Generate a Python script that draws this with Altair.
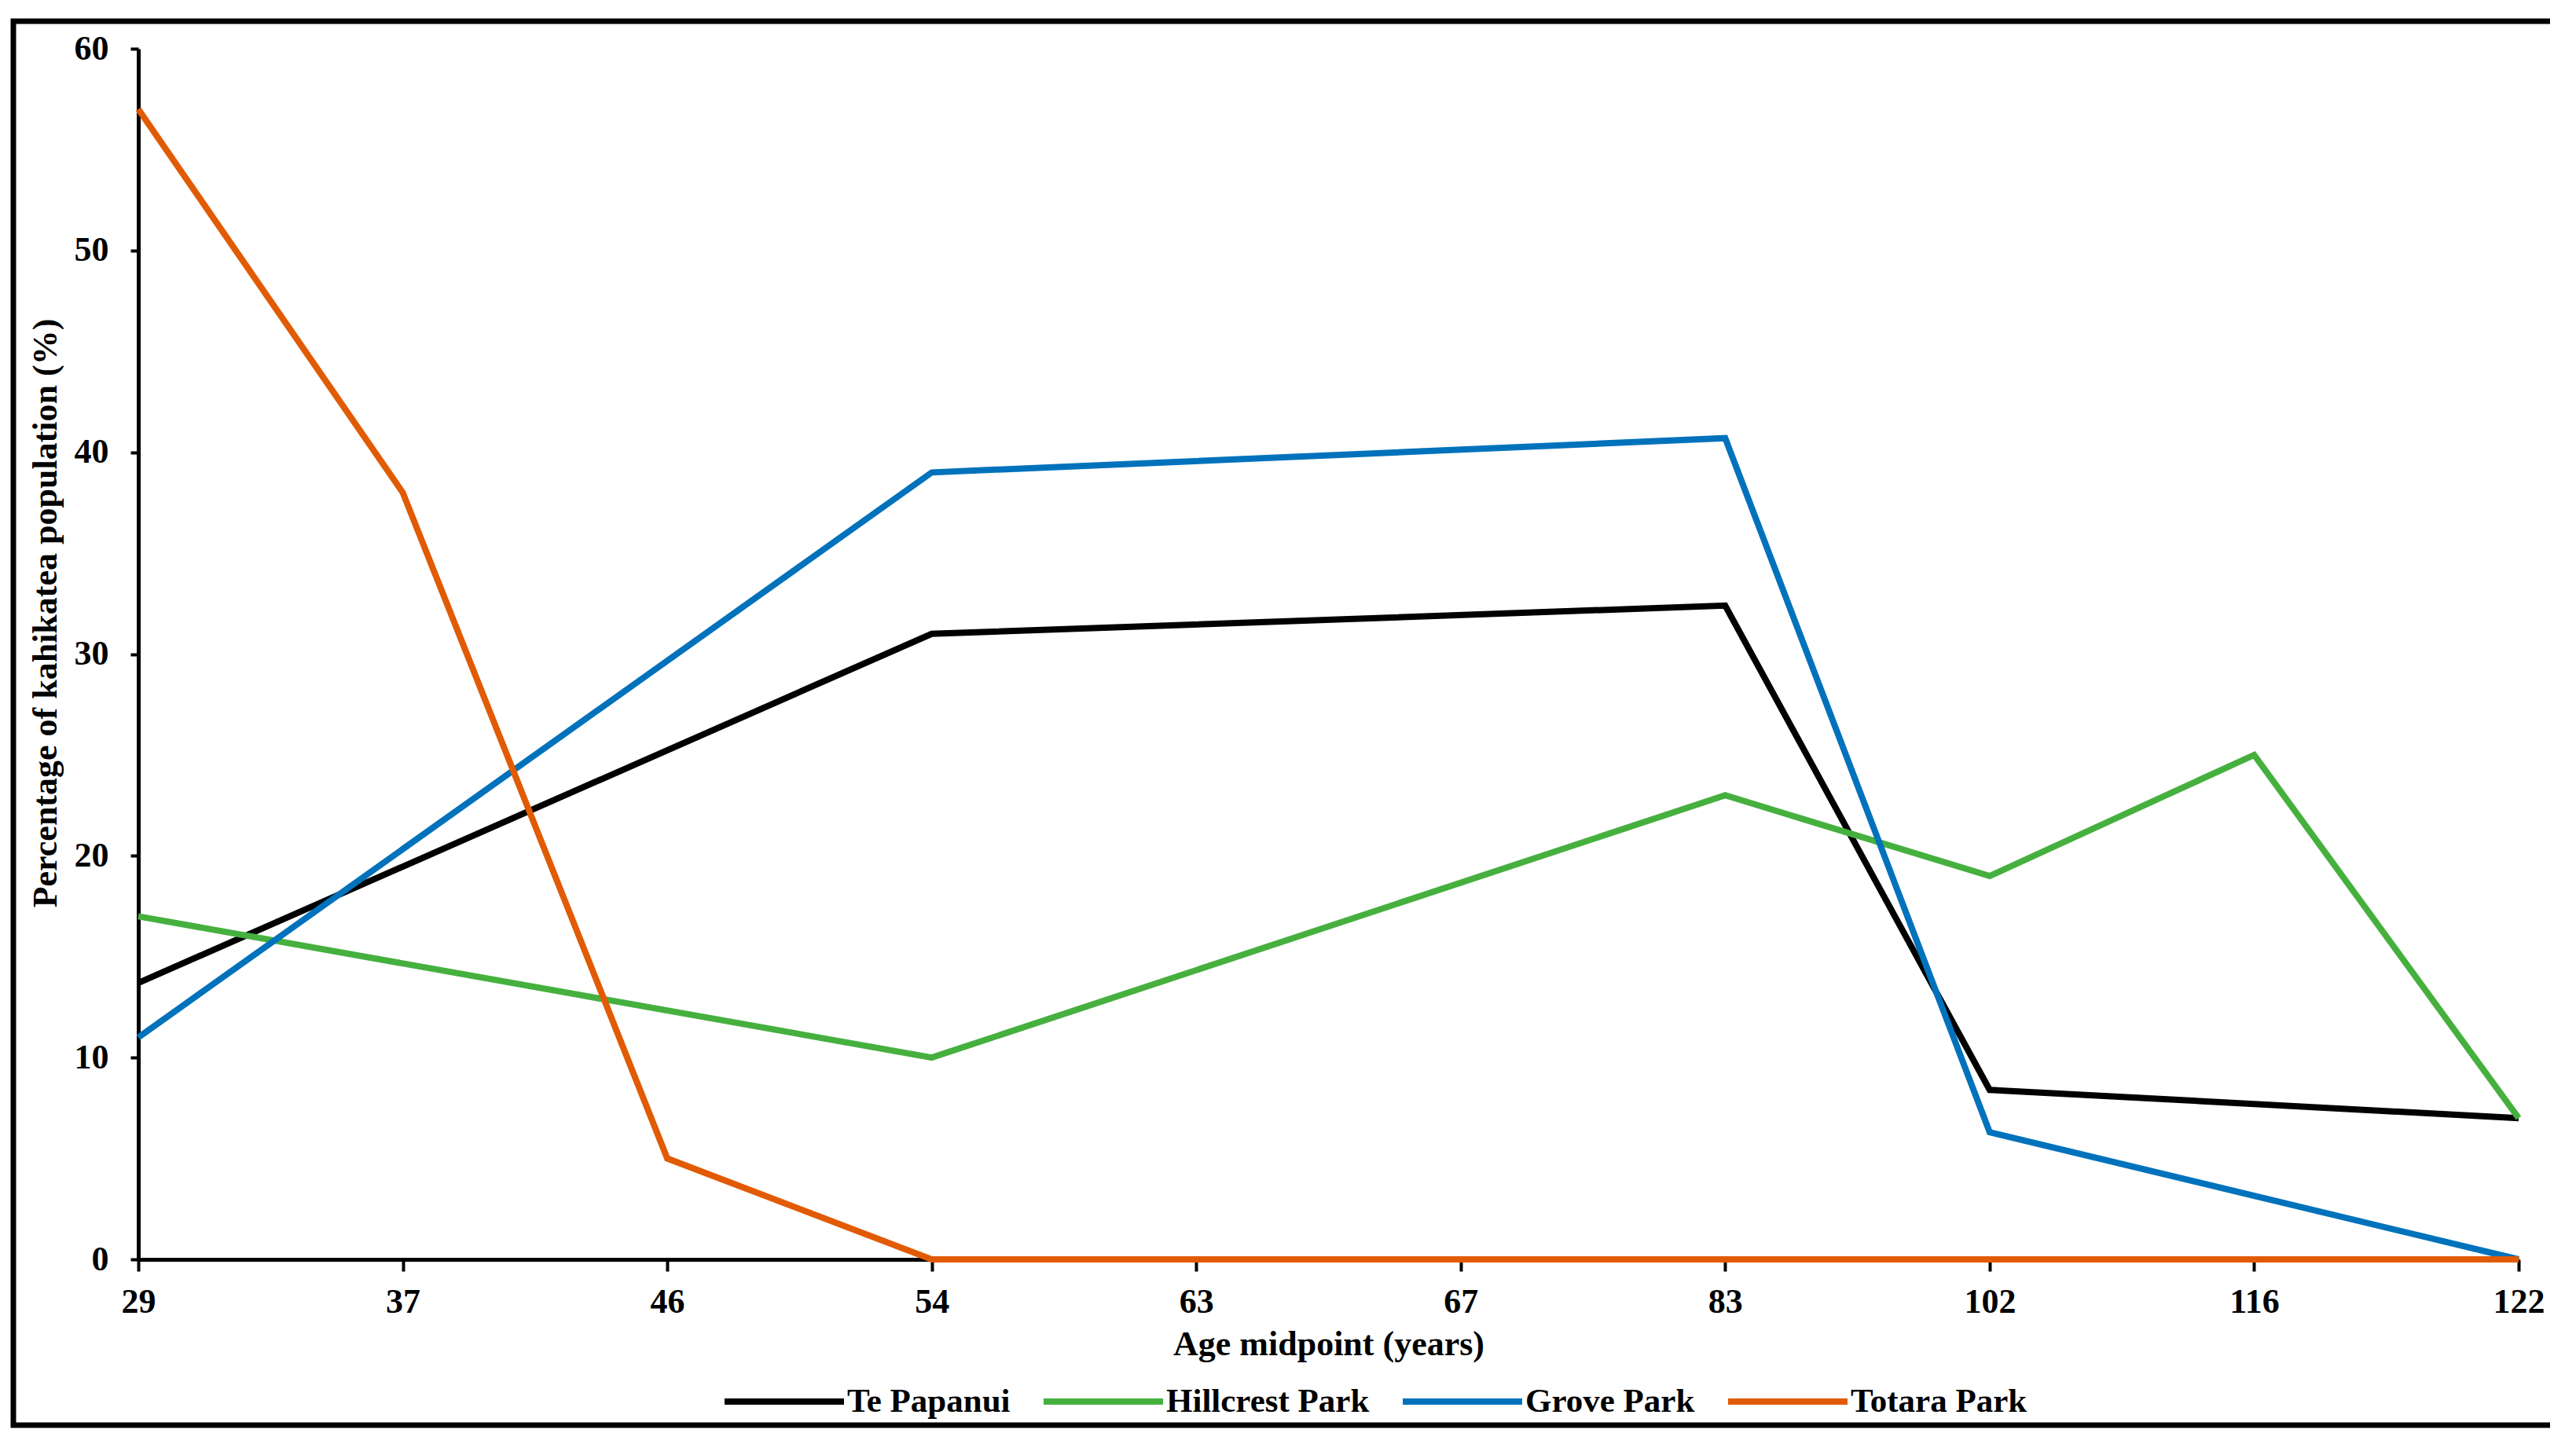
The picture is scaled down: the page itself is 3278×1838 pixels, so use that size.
import altair as alt
import pandas as pd

ages = ["29", "37", "46", "54", "63", "67", "83", "102", "116", "122"]
series_names = ["Te Papanui", "Hillcrest Park", "Grove Park", "Totara Park"]
te_papanui = [13.7, None, None, 31.0, None, None, 32.4, 8.4, None, 7.0]
hillcrest = [17.0, None, None, 10.0, None, None, 23.0, 19.0, 25.0, 7.0]
grove = [11.0, None, None, 39.0, None, None, 40.7, 6.3, None, 0.0]
totara = [57.0, 38.0, 5.0, 0.0, 0.0, 0.0, 0.0, 0.0, 0.0, 0.0]
colors = ["#000000", "#46B03F", "#0072BC", "#E15B04"]
y_ticks = [0, 10, 20, 30, 40, 50, 60]

rows = []
for name, vals in zip(series_names, [te_papanui, hillcrest, grove, totara]):
    for a, v in zip(ages, vals):
        if v is not None:
            rows.append({"age": a, "site": name, "pct": v})
df = pd.DataFrame(rows)

W, H = 3029, 1541
FONT = "Liberation Serif"

lines = alt.Chart(df).mark_line(strokeWidth=8, strokeJoin="miter", strokeCap="butt").encode(
    x=alt.X("age:O", sort=ages, scale=alt.Scale(padding=0),
            axis=alt.Axis(title="Age midpoint (years)", labelAngle=0, tickSize=15,
                          labelPadding=17, titlePadding=10)),
    y=alt.Y("pct:Q", scale=alt.Scale(domain=[0, 60], nice=False),
            axis=alt.Axis(title="Percentage of kahikatea population (%)", values=y_ticks,
                          tickSize=10, labelPadding=28, titlePadding=14, titleY=718)),
    color=alt.Color("site:N", scale=alt.Scale(domain=series_names, range=colors),
                    sort=series_names,
                    legend=alt.Legend(title=None, orient="none", legendX=742, legendY=1642,
                                      direction="horizontal", columns=4,
                                      symbolType="stroke", symbolSize=23104,
                                      symbolStrokeWidth=8, labelOffset=0, labelLimit=0,
                                      columnPadding=26, labelFont=FONT,
                                      labelFontSize=43, labelFontWeight="bold",
                                      labelColor="#000000")),
    order=alt.value(0),
)

border = alt.Chart(pd.DataFrame({"a": [0]})).mark_rect(
    fill=None, stroke="#000000", strokeWidth=7
).encode(
    x=alt.value(-159), x2=alt.value(3079), y=alt.value(-35), y2=alt.value(1752)
)

chart = alt.layer(lines, border).properties(
    width=W, height=H,
    padding={"left": 168, "top": 54, "right": 40, "bottom": 230},
    autosize=alt.AutoSizeParams(type="none"),
    background="#ffffff",
).configure_view(stroke=None).configure_axis(
    grid=False,
    domainColor="#000000", domainWidth=5,
    tickColor="#000000", tickWidth=4,
    labelFont=FONT, labelFontSize=44, labelFontWeight="bold", labelColor="#000000",
    titleFont=FONT, titleFontSize=44, titleFontWeight="bold", titleColor="#000000",
)

chart.save("out.html", embed_options={"renderer": "svg", "actions": False})
